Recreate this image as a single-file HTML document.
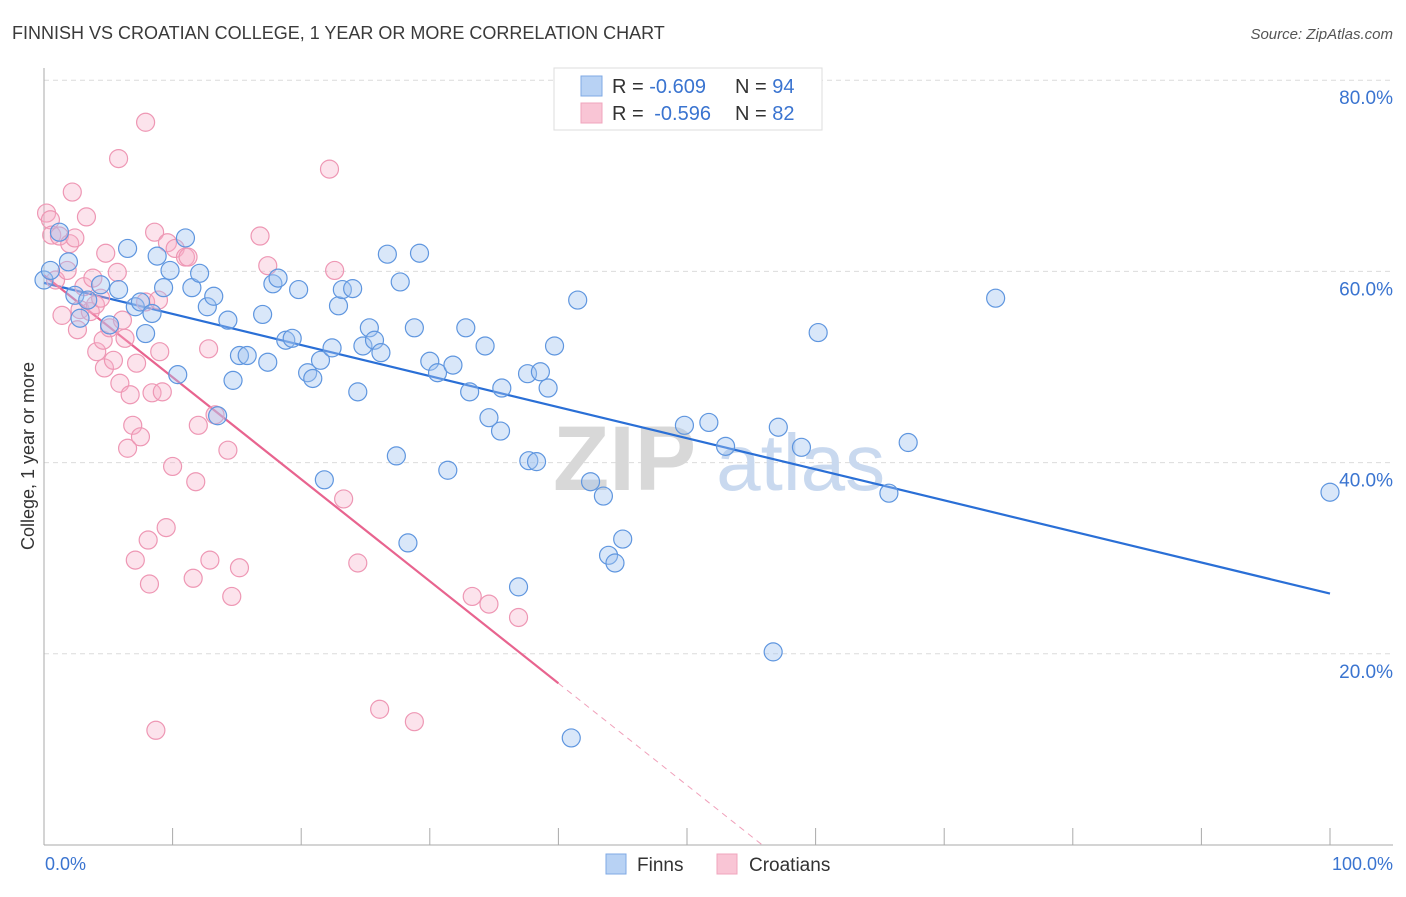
<!DOCTYPE html>
<html><head><meta charset="utf-8"><style>
body{margin:0;background:#fff;font-family:"Liberation Sans",sans-serif;}
svg text{font-family:"Liberation Sans",sans-serif;}
</style></head><body>
<svg id="chart" width="1406" height="892" xmlns="http://www.w3.org/2000/svg">
<text x="12" y="39" font-size="18" fill="#3a3a3a">FINNISH VS CROATIAN COLLEGE, 1 YEAR OR MORE CORRELATION CHART</text>
<text x="1393" y="39" font-size="15" fill="#555" font-style="italic" text-anchor="end">Source: ZipAtlas.com</text>
<g id="grid"></g>
<text x="553" y="490" font-size="92" font-family="Liberation Serif" fill="#d8d8d8" font-weight="bold">ZIP<tspan fill="#c9d9ef" font-family="Liberation Sans" font-weight="normal" font-size="80" dx="20">atlas</tspan></text>
<g id="axes"></g>
<g id="lines"></g>
<g id="pts"></g>
<text transform="translate(34,456) rotate(-90)" font-size="18" fill="#333" text-anchor="middle">College, 1 year or more</text>
<g>
<rect x="554" y="68" width="268" height="62" fill="#fff" stroke="#ddd"/>
<rect x="581" y="76" width="21" height="20" fill="#b8d2f4" stroke="#7fa9e4"/>
<rect x="581" y="103" width="21" height="20" fill="#f9c5d5" stroke="#f0a5bd"/>
<text x="612" y="93" font-size="20" fill="#333">R = <tspan fill="#3a74d0">-0.609</tspan><tspan x="735">N = </tspan><tspan fill="#3a74d0">94</tspan></text>
<text x="612" y="120" font-size="20" fill="#333">R = <tspan fill="#3a74d0" dx="5">-0.596</tspan><tspan x="735">N = </tspan><tspan fill="#3a74d0">82</tspan></text>
</g>
<g>
<rect x="606" y="854" width="20" height="20" fill="#b8d2f4" stroke="#7fa9e4"/>
<text x="637" y="871" font-size="19" fill="#333">Finns</text>
<rect x="717" y="854" width="20" height="20" fill="#f9c5d5" stroke="#f0a5bd"/>
<text x="749" y="871" font-size="19" fill="#333">Croatians</text>
</g>
</svg>
<script>
const yTicks=[20,40,60,80];
const yTickLabels=["20.0%","40.0%","60.0%","80.0%"];
const xTickVals=[0,10,20,30,40,50,60,70,80,90,100];
const finnsX=[0,0.5,1.2,1.9,2.4,2.8,3.4,4.4,5.1,5.8,6.5,7.1,7.5,7.9,8.4,8.8,9.3,9.8,10.4,11.0,11.5,12.1,12.7,13.2,13.5,14.3,14.7,15.2,15.8,17.0,17.4,17.8,18.2,18.8,19.3,19.8,20.5,20.9,21.5,21.8,22.4,22.9,23.2,24.0,24.4,24.8,25.3,25.7,26.2,26.7,27.4,27.7,28.3,28.8,29.2,30.0,30.6,31.4,31.8,32.8,33.1,34.3,34.6,35.5,35.6,36.9,37.6,37.7,38.3,38.6,39.2,39.7,41.0,41.5,42.5,43.5,43.9,44.4,45.0,49.8,51.7,53.0,56.7,57.1,58.9,60.2,65.7,67.2,74.0,100];
const finnsY=[59.1,60.1,64.1,61.0,57.5,55.1,57.0,58.6,54.4,58.1,62.4,56.3,56.8,53.5,55.6,61.6,58.3,60.1,49.2,63.5,58.3,59.8,56.3,57.4,44.9,54.9,48.6,51.2,51.2,55.5,50.5,58.7,59.3,52.8,53.0,58.1,49.4,48.8,50.7,38.2,52.0,56.4,58.1,58.2,47.4,52.2,54.1,52.8,51.5,61.8,40.7,58.9,31.6,54.1,61.9,50.6,49.4,39.2,50.2,54.1,47.4,52.2,44.7,43.3,47.8,27.0,49.3,40.2,40.1,49.5,47.8,52.2,11.2,57.0,38.0,36.5,30.3,29.5,32.0,43.9,44.2,41.7,20.2,43.7,41.6,53.6,36.8,42.1,57.2,36.9];
const croatsX=[0.2,0.5,0.6,0.9,1.2,1.4,1.8,2.0,2.2,2.4,2.6,2.8,3.1,3.3,3.6,3.8,4.0,4.1,4.4,4.6,4.7,4.8,5.1,5.4,5.7,5.8,5.9,6.1,6.3,6.5,6.7,6.9,7.1,7.2,7.5,7.9,7.9,8.1,8.2,8.4,8.6,8.7,8.9,9.0,9.2,9.5,9.6,10.0,10.2,11.0,11.2,11.6,11.8,12.0,12.8,12.9,13.3,14.3,14.6,15.2,16.8,17.4,22.2,22.6,23.3,24.4,26.1,28.8,33.3,34.6,36.9];
const croatsY=[66.1,65.4,63.8,59.1,63.7,55.4,60.1,62.9,68.3,63.5,53.9,56.0,58.4,65.7,55.8,59.3,56.5,51.6,57.2,52.8,49.9,61.9,54.1,50.7,59.9,71.8,48.3,54.9,53.0,41.5,47.1,43.9,29.8,50.4,42.7,56.8,75.6,31.9,27.3,47.3,64.1,12.0,57.0,51.6,47.4,33.2,63.0,39.6,62.4,61.5,61.5,27.9,38.0,43.9,51.9,29.8,45.0,41.3,26.0,29.0,63.7,60.6,70.7,60.1,36.2,29.5,14.2,12.9,26.0,25.2,23.8];
const finnsTrend=[58.8,26.3];
const croatsTrend=[59.6,-1.067];
const X0=44,X1=1330,Y0=845,YPER=9.56;
const sx=v=>X0+(X1-X0)*v/100, sy=v=>Y0-v*YPER;
const NS="http://www.w3.org/2000/svg";
function mk(p,t,a){const e=document.createElementNS(NS,t);for(const k in a)e.setAttribute(k,a[k]);p.appendChild(e);return e;}
const grid=document.getElementById('grid'),axes=document.getElementById('axes');
yTicks.forEach((v,i)=>{
 const l=mk(grid,'line',{x1:X0,x2:1393,y1:sy(v),y2:sy(v),stroke:'#dcdcdc','stroke-dasharray':'5,4'});
 
 
 const t=mk(axes,'text',{x:1393,y:sy(v)+24,'font-size':19,fill:'#3a74d0','text-anchor':'end'});
 t.textContent=yTickLabels[i];
 
 
});
const ya=mk(axes,'line',{x1:X0,x2:X0,y1:68,y2:Y0,stroke:'#aaa'});


const xa=mk(axes,'line',{x1:X0,x2:1393,y1:Y0,y2:Y0,stroke:'#aaa'});


xTickVals.forEach(v=>{
 const t=mk(axes,'line',{x1:sx(v),x2:sx(v),y1:828,y2:Y0,stroke:'#aaa'});
 
 
});
const xl0=mk(axes,'text',{x:45,y:870,'font-size':18,fill:'#3a74d0'});xl0.textContent='0.0%';


const xl1=mk(axes,'text',{x:1393,y:870,'font-size':18,fill:'#3a74d0','text-anchor':'end'});xl1.textContent='100.0%';


const pts=document.getElementById('pts');
croatsX.forEach((x,i)=>{
 const c=mk(pts,'circle',{cx:sx(x),cy:sy(croatsY[i]),r:9,fill:'rgba(246,176,200,0.35)',stroke:'#ee97b4','stroke-width':1.2});
 
 
});
finnsX.forEach((x,i)=>{
 const c=mk(pts,'circle',{cx:sx(x),cy:sy(finnsY[i]),r:9,fill:'rgba(160,196,240,0.4)',stroke:'#5f96df','stroke-width':1.2});
 
 
});
const lines=document.getElementById('lines');
const bl=mk(lines,'line',{x1:sx(0),y1:sy(finnsTrend[0]),x2:sx(100),y2:sy(finnsTrend[1]),stroke:'#2a6fd6','stroke-width':2.2});


const pf=x=>croatsTrend[0]+croatsTrend[1]*x;
const xz=-croatsTrend[0]/croatsTrend[1];
const pl=mk(lines,'line',{x1:sx(0),y1:sy(pf(0)),x2:sx(40),y2:sy(pf(40)),stroke:'#e8648f','stroke-width':2.2});


const pd=mk(lines,'line',{x1:sx(40),y1:sy(pf(40)),x2:sx(xz),y2:sy(0),stroke:'#f0a0ba','stroke-width':1,'stroke-dasharray':'6,5'});


</script>
</body></html>
